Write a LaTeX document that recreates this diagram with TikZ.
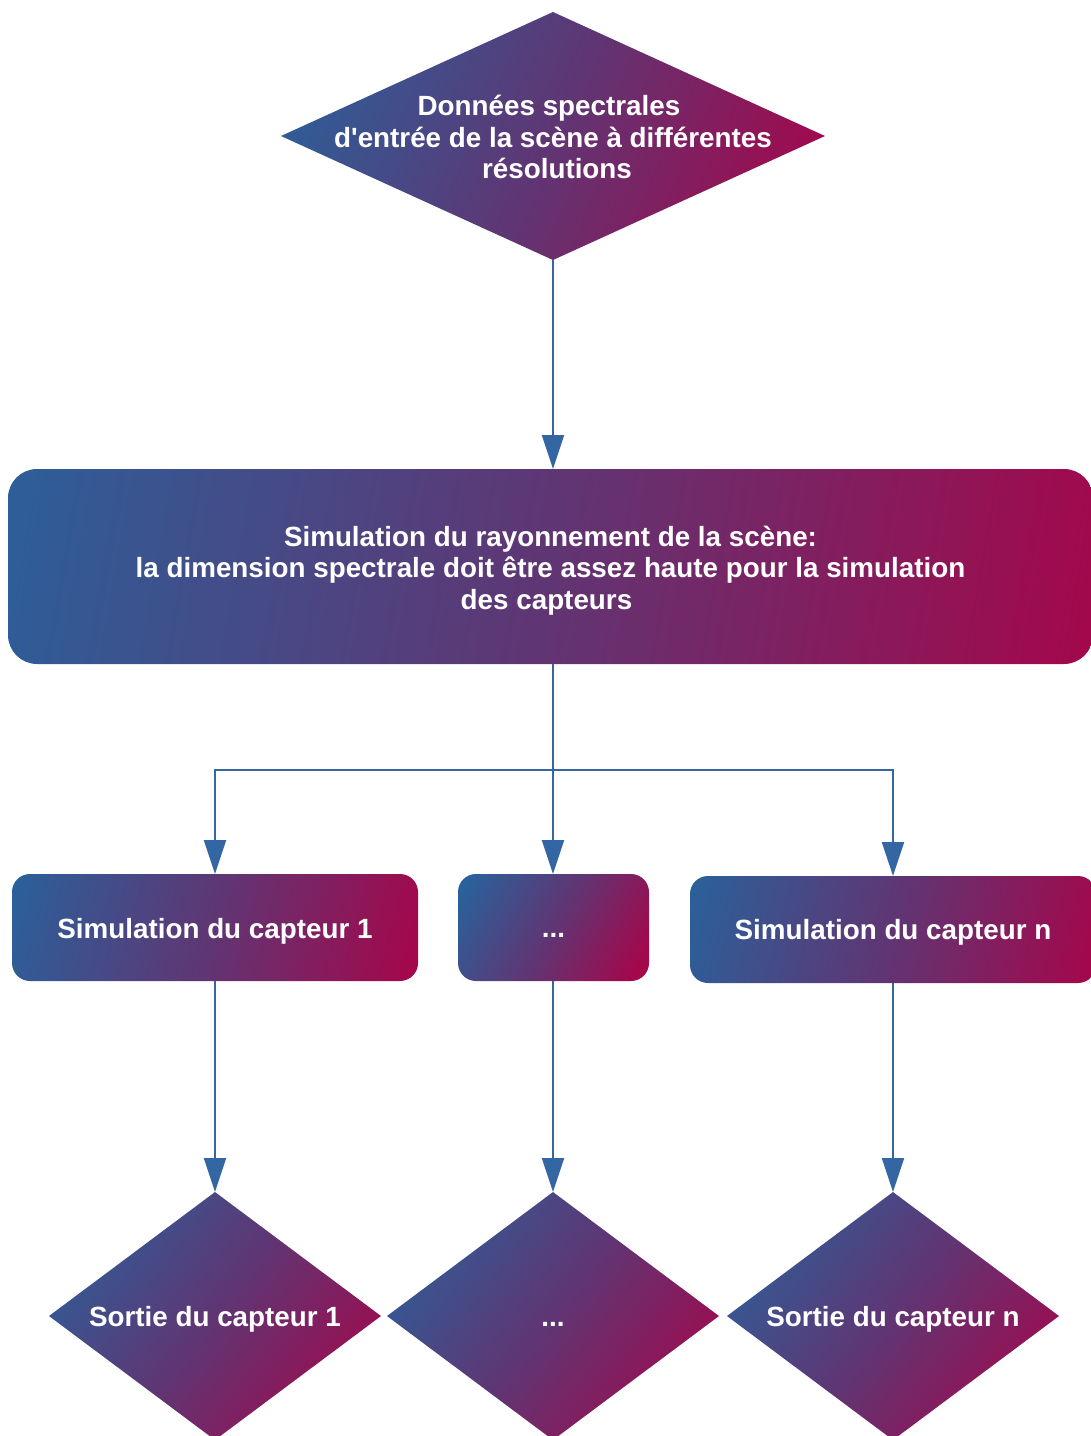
\documentclass[tikz,border=0pt]{standalone}
\usepackage{fontspec}
\setmainfont{Liberation Sans}[Ligatures=TeXOff]
\usetikzlibrary{shapes.geometric,arrows.meta}
\definecolor{gradA}{HTML}{2B609A}
\definecolor{gradM}{HTML}{603573}
\definecolor{gradB}{HTML}{A6064A}
\definecolor{wirecol}{HTML}{3366A2}
% diagonal blue-to-crimson fill, ramp covering the whole shape
\pgfdeclarehorizontalshading{lucid}{100bp}{color(0bp)=(gradA); color(20bp)=(gradA);
  color(50bp)=(gradM); color(80bp)=(gradB); color(100bp)=(gradB)}
\begin{document}
\begin{tikzpicture}[x=1pt,y=-1pt,
  grad/.style={shade, shading=lucid, shading angle=#1},
  txt/.style={text=white, font=\fontsize{27.8}{31.2}\selectfont\bfseries, align=center, inner sep=0pt},
  dia/.style={grad=#1, diamond, inner sep=0pt, outer sep=0pt},
  box/.style={rectangle, inner sep=0pt, outer sep=0pt},
  wire/.style={draw=wirecol, line width=2pt},
  arr/.style={wire, -{Triangle[width=22pt,length=34pt]}},
]
\useasboundingbox (0,0) rectangle (1091,1436);
\clip (0,0) rectangle (1091,1436);

% input data
\node[dia=-24.5, minimum width=544pt, minimum height=248pt,
  label={[txt, yshift=-1pt]center:Données spectrales\kern8pt\\d'entrée de la scène à différentes\\\kern8pt résolutions}] (in) at (553,136) {};

% scene radiance simulation
\node[box, grad=-10, rounded corners=29pt, minimum width=1085pt, minimum height=195pt,
  label={[txt, yshift=-4pt]center:Simulation du rayonnement de la scène:\\la dimension spectrale doit être assez haute pour la simulation\\des capteurs\kern8pt}] (sim) at (550.5,566.5) {};

% sensor simulations
\node[box, grad=-14.8, rounded corners=18pt, minimum width=406pt, minimum height=107pt,
  label={[txt, yshift=-4pt]center:Simulation du capteur 1}] (c1) at (215,927.5) {};
\node[box, grad=-29.3, rounded corners=18pt, minimum width=191pt, minimum height=107pt,
  label={[txt, yshift=-8pt]center:...}] (cm) at (553.5,927.5) {};
\node[box, grad=-14.8, rounded corners=18pt, minimum width=406pt, minimum height=107pt,
  label={[txt, yshift=-3pt]center:Simulation du capteur n}] (cn) at (893,929.5) {};

% sensor outputs
\node[dia=-36.8, minimum width=332pt, minimum height=248pt,
  label={[txt, yshift=-3pt]center:Sortie du capteur 1}] (o1) at (215,1316) {};
\node[dia=-36.8, minimum width=332pt, minimum height=248pt,
  label={[txt, yshift=-8pt]center:...}] (om) at (553,1316) {};
\node[dia=-36.8, minimum width=332pt, minimum height=248pt,
  label={[txt, yshift=-3pt]center:Sortie du capteur n}] (on) at (893,1316) {};

% connectors
\draw[arr] (in.south) -- (in.south |- sim.north);
\coordinate (fork) at (553,770);
\draw[wire] (fork |- sim.south) -- (fork);
\draw[arr] (fork) -| (c1.north);
\draw[arr] (fork) -- (fork |- cm.north);
\draw[arr] (fork) -| (cn.north);
\draw[arr] (c1.south) -- (o1.north);
\draw[arr] (om.north |- cm.south) -- (om.north);
\draw[arr] (cn.south) -- (on.north);
\end{tikzpicture}
\end{document}
